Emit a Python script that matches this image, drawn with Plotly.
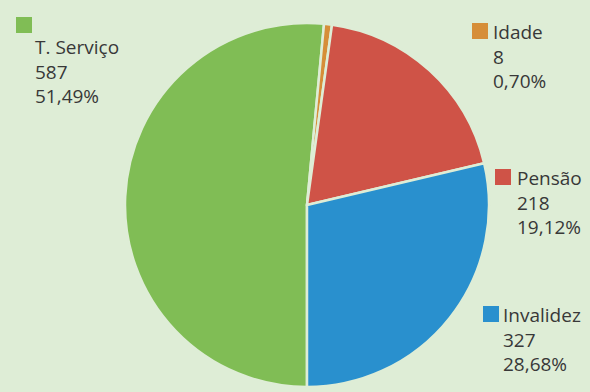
import plotly.graph_objects as go

labels = ["T. Serviço", "Idade", "Pensão", "Invalidez"]
values = [587, 8, 218, 327]
pct_labels = ["51,49%", "0,70%", "19,12%", "28,68%"]
colors = ["#80bd55", "#d68e38", "#cf5347", "#2990ce"]

W, H = 590, 392
BG = "#deedd6"

# label block placement (pixels): square box (x0,y0), text x, top of text block
square_pos = [(16, 17), (472, 23), (495, 169), (483, 306)]
text_pos = [(35, 33), (493, 18), (517, 164), (503, 301)]

fig = go.Figure()
fig.add_trace(go.Pie(
    labels=labels, values=values, sort=False, direction="clockwise",
    rotation=180, textinfo="none", hoverinfo="label+value+percent",
    marker=dict(colors=colors, line=dict(color=BG, width=2.5)),
    domain=dict(x=[125 / W, 489 / W], y=[1 - 387 / H, 1 - 23 / H]),
    showlegend=False,
))

def px(x):
    return x / W

def py(y):
    return 1 - y / H

shapes = []
annotations = []
font = dict(family="Open Sans", size=19, color="#383838")
for i, lab in enumerate(labels):
    sx, sy = square_pos[i]
    shapes.append(dict(type="rect", xref="paper", yref="paper",
                       x0=px(sx), x1=px(sx + 16), y0=py(sy), y1=py(sy + 16),
                       fillcolor=colors[i], line=dict(width=0)))
    tx, top = text_pos[i]
    txt = "<br>".join([lab, str(values[i]), pct_labels[i]])
    annotations.append(dict(text=txt, xref="paper", yref="paper",
                            x=px(tx - 1), y=py(top),
                            xanchor="left", yanchor="top", align="left",
                            showarrow=False, font=font, borderpad=0))

fig.update_layout(
    width=W, height=H, margin=dict(l=0, r=0, t=0, b=0),
    paper_bgcolor=BG, plot_bgcolor=BG,
    shapes=shapes, annotations=annotations,
)
fig.write_html("out.html")
